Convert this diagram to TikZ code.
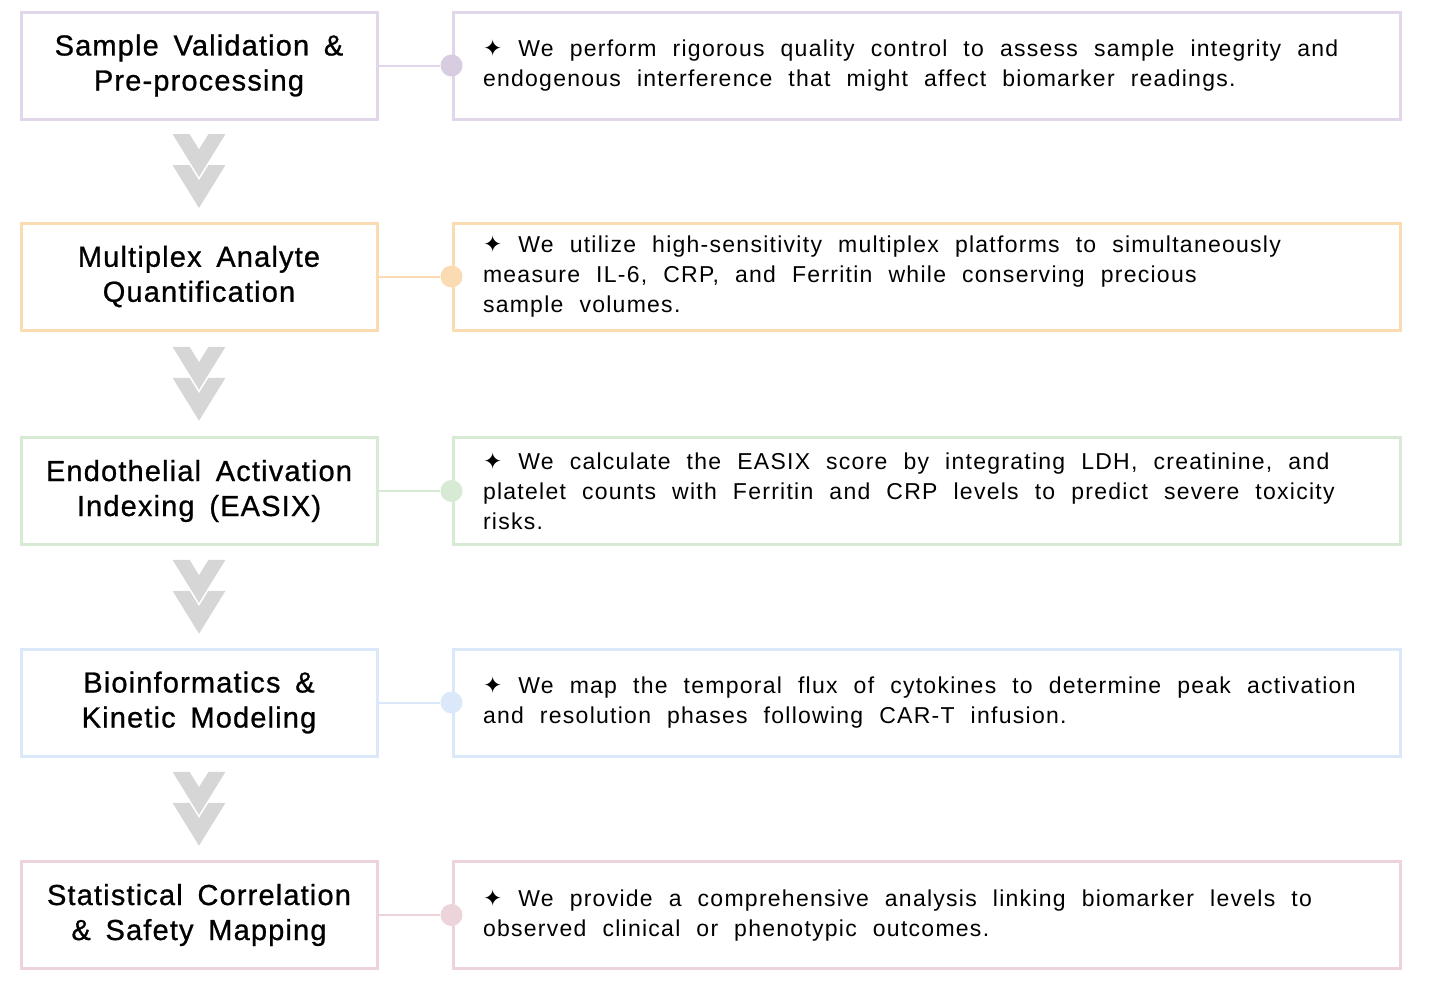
\documentclass[tikz,border=0pt]{standalone}
\usepackage{fontspec}
\setmainfont{Liberation Sans}
\newfontfamily\stagefont{Liberation Sans}[LetterSpace=4,WordSpace=1.6,FakeBold=0.8]
\newfontfamily\notefont{Liberation Sans}[LetterSpace=5.5,WordSpace=2.1]
\newfontfamily\symfont{DejaVu Sans}
\usetikzlibrary{positioning,calc}

\definecolor{lilac}{HTML}{E2D6EB}
\definecolor{peach}{HTML}{FADBB2}
\definecolor{sage}{HTML}{D6EAD4}
\definecolor{sky}{HTML}{DAE8FA}
\definecolor{rose}{HTML}{EDD3DA}
\definecolor{chevgray}{HTML}{D6D6D6}

\newcommand{\spark}{{\symfont ✦}}

\begin{document}
\begin{tikzpicture}[x=0.5pt, y=-0.5pt,
    stagebox/.style={rectangle, draw=#1, line width=1.5pt, fill=white,
      minimum width=178pt, minimum height=53.5pt, align=center,
      font=\stagefont\fontsize{14.5}{17.5}\selectfont},
    notebox/.style={rectangle, draw=#1, line width=1.5pt, fill=white,
      minimum height=53.5pt, text width=443.5pt, inner xsep=15pt, align=flush left,
      font=\notefont\fontsize{11.5}{15}\selectfont},
    dot/.style={circle, fill=#1, draw=none, minimum size=11pt, inner sep=0pt},
    link/.style={draw=#1, line width=1pt},
    chev/.style={fill=chevgray, draw=none}]

      \useasboundingbox (0,0) rectangle (1433,996);

      % stages
      \node[stagebox=lilac] (s1) at (199, 65.5) {Sample Validation \&\\Pre-processing};
      \node[stagebox=peach] (s2) at (199, 276.5) {Multiplex Analyte\\Quantification};
      \node[stagebox=sage] (s3) at (199, 491) {Endothelial Activation\\Indexing (EASIX)};
      \node[stagebox=sky] (s4) at (199, 702.5) {Bioinformatics \&\\Kinetic Modeling};
      \node[stagebox=rose] (s5) at (199, 915) {Statistical Correlation\\\& Safety Mapping};

      % notes
      \node[notebox=lilac] (n1) at (926.5, 65.5) {\spark{} We perform rigorous quality control to assess sample integrity and\\endogenous interference that might affect biomarker readings.};
      \node[notebox=peach] (n2) at (926.5, 276.5) {\spark{} We utilize high-sensitivity multiplex platforms to simultaneously\\measure IL-6, CRP, and Ferritin while conserving precious\\sample volumes.};
      \node[notebox=sage] (n3) at (926.5, 491) {\spark{} We calculate the EASIX score by integrating LDH, creatinine, and\\platelet counts with Ferritin and CRP levels to predict severe toxicity\\risks.};
      \node[notebox=sky] (n4) at (926.5, 702.5) {\spark{} We map the temporal flux of cytokines to determine peak activation\\and resolution phases following CAR-T infusion.};
      \node[notebox=rose] (n5) at (926.5, 915) {\spark{} We provide a comprehensive analysis linking biomarker levels to\\observed clinical or phenotypic outcomes.};

      % links
      \node[dot=lilac!90!gray] (d1) at (n1.west) {};
      \node[dot=peach] (d2) at (n2.west) {};
      \node[dot=sage] (d3) at (n3.west) {};
      \node[dot=sky] (d4) at (n4.west) {};
      \node[dot=rose] (d5) at (n5.west) {};
      \draw[link=lilac] (s1.east) -- (d1);
      \draw[link=peach] (s2.east) -- (d2);
      \draw[link=sage] (s3.east) -- (d3);
      \draw[link=sky] (s4.east) -- (d4);
      \draw[link=rose] (s5.east) -- (d5);

      % chevrons
      \coordinate (c1) at ($(s1.south)!0.5!(s2.north)$);
      \coordinate (c2) at ($(s2.south)!0.5!(s3.north)$);
      \coordinate (c3) at ($(s3.south)!0.5!(s4.north)$);
      \coordinate (c4) at ($(s4.south)!0.5!(s5.north)$);
      \foreach \c in {c1,c2,c3,c4} {
        \fill[chev, shift={(\c)}] (-26.5,-37) -- (-9.5,-37) -- (0,-21.6) -- (9.5,-37) -- (26.5,-37) -- (0,6) -- cycle;
        \fill[chev, shift={(\c)}] (-26.5,-6) -- (-9.5,-6) -- (0,9.4) -- (9.5,-6) -- (26.5,-6) -- (0,37) -- cycle;
      }
    \end{tikzpicture}
\end{document}
